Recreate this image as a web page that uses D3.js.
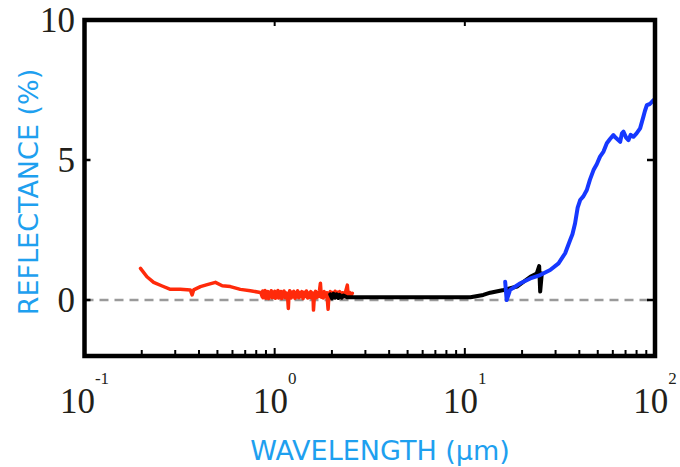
<!DOCTYPE html>
<html><head><meta charset="utf-8">
<script src="https://cdn.jsdelivr.net/npm/d3@7/dist/d3.min.js"></script>
<style>html,body{margin:0;padding:0;background:#fff}svg{display:block}</style>
</head><body>
<script>
// ---- data (wavelength in µm, reflectance in %) ----
const redWavelength = [0.197,0.213,0.231,0.256,0.283,0.319,0.36,0.368,0.375,0.407,0.442,0.488,0.53,0.585,0.66,0.745,0.841,
  0.85,0.86,0.865,0.87,0.88,0.885,0.89,0.90,0.91,0.915,0.92,0.93,0.94,0.95,0.96,0.97,0.98,0.99,1.00,1.01,1.02,1.03,1.04,1.05,
  1.06,1.07,1.08,1.09,1.10,1.11,1.12,1.14,1.15,1.17,1.18,1.19,1.20,1.22,1.23,1.25,1.26,1.28,1.29,1.31,1.32,1.34,1.35,1.37,
  1.39,1.41,1.43,1.45,1.47,1.49,1.51,1.53,1.55,1.57,1.59,1.60,1.62,1.64,1.66,1.68,1.70,1.72,1.74,1.76,1.78,1.80,1.82,1.85,
  1.88,1.91,1.93,1.96,1.99,2.02,2.05,2.08,2.11,2.14,2.17,2.20,2.24,2.28,2.32,2.36,2.41,2.44,2.48,2.52,2.56];
const redReflectance = [1.13,0.83,0.63,0.50,0.38,0.38,0.36,0.18,0.36,0.48,0.55,0.63,0.51,0.48,0.38,0.33,0.27,
  0.22,0.12,0.32,0.08,0.28,0.15,0.34,0.06,0.26,0.12,0.30,0.05,0.27,0.14,0.33,0.08,0.25,0.10,0.31,0.06,0.28,0.12,0.34,0.07,
  0.26,0.13,0.30,0.05,0.27,0.11,0.32,0.08,0.25,0.10,-0.30,0.22,0.33,0.07,0.28,0.12,0.31,0.06,0.26,0.11,0.33,0.08,0.27,0.12,
  0.30,0.05,0.28,0.13,0.32,0.07,0.25,0.10,0.30,0.06,0.24,-0.36,0.22,0.31,0.08,0.27,0.12,0.33,0.60,0.10,0.28,0.07,0.30,0.12,
  0.26,-0.33,0.20,0.30,0.08,0.27,0.12,0.31,0.10,0.28,0.13,0.30,0.09,0.26,0.12,0.30,0.53,0.14,0.27,0.15,0.24];

const blackWavelength = [1.96,2.0,2.04,2.08,2.12,2.16,2.2,2.25,2.3,2.4,2.5,3.0,4.58,6.0,8.38,10.7,12.5,13.6,16.0,18.8,22.1,23.9,24.6,24.9,25.4];
const blackReflectance = [0.20,0.06,0.22,0.08,0.20,0.07,0.18,0.08,0.16,0.10,0.10,0.10,0.10,0.10,0.10,0.10,0.18,0.26,0.36,0.48,0.83,0.95,1.21,0.30,0.95];

const blueWavelength = [16.3,16.6,17.3,19.6,22.1,24.9,28.1,31.1,33.7,35.8,36.8,38.0,39.2,40.4,42.0,43.8,45.5,47.5,49.4,51.4,53.6,55.8,58.0,60.4,62.0,
  65.6,67.0,68.3,70.5,72.5,74.5,77.0,80.0,83.5,86.9,88.5,90.6,94.0,98.2];
const blueReflectance = [0.65,0.0,0.36,0.60,0.77,0.89,1.07,1.31,1.67,2.14,2.35,2.74,3.30,3.57,3.70,3.93,4.30,4.64,4.85,5.12,5.30,5.60,5.75,5.89,5.80,
  5.65,5.95,6.01,5.80,5.71,5.90,5.83,5.95,6.13,6.55,6.75,6.96,7.00,7.14];

const xTickValues = [0.1, 1, 10, 100];
const xTickExponents = ["-1", "0", "1", "2"];
const yTickValues = [0, 5, 10];

// ---- layout ----
const W = 680, H = 467;
const L = 84.5, R = 655, T = 20, B = 356;
const svg = d3.select("body").append("svg").attr("width", W).attr("height", H);

const x = d3.scaleLog().domain([0.1, 100]).range([L, R]);
const y = d3.scaleLinear().domain([-2, 10]).range([B, T]);

// dashed zero line
svg.append("line").attr("x1", L).attr("x2", R).attr("y1", y(0)).attr("y2", y(0))
  .attr("stroke", "#9a9a9a").attr("stroke-width", 2.5).attr("stroke-dasharray", "9,6");

// data lines
const line = d3.line().x(d => x(d[0])).y(d => y(d[1]));
function series(ws, vs, color, sw) {
  svg.append("path").datum(ws.map((w, i) => [w, vs[i]]))
    .attr("d", line).attr("fill", "none").attr("stroke", color)
    .attr("stroke-width", sw).attr("stroke-linejoin", "round").attr("stroke-linecap", "round");
}
series(redWavelength, redReflectance, "#ff2a0a", 3.5);
series(blackWavelength, blackReflectance, "#000", 4);
series(blueWavelength, blueReflectance, "#1638ff", 4);

// frame
svg.append("rect").attr("x", L).attr("y", T).attr("width", R - L).attr("height", B - T)
  .attr("fill", "none").attr("stroke", "#000").attr("stroke-width", 4.5);

// ticks (inward)
const minor = [];
for (let e = -1; e < 2; e++) for (let k = 2; k <= 9; k++) minor.push(k * Math.pow(10, e));
const gAx = svg.append("g").attr("stroke", "#000");
minor.forEach(v => gAx.append("line").attr("x1", x(v)).attr("x2", x(v)).attr("y1", B).attr("y2", B - 6).attr("stroke-width", 2));
[1, 10].forEach(v => {
  gAx.append("line").attr("x1", x(v)).attr("x2", x(v)).attr("y1", B).attr("y2", B - 8).attr("stroke-width", 2);
  gAx.append("line").attr("x1", x(v)).attr("x2", x(v)).attr("y1", T).attr("y2", T + 6).attr("stroke-width", 2);
});
[0, 5].forEach(v => {
  gAx.append("line").attr("x1", L).attr("x2", L + 6).attr("y1", y(v)).attr("y2", y(v)).attr("stroke-width", 2.5);
  gAx.append("line").attr("x1", R).attr("x2", R - 8).attr("y1", y(v)).attr("y2", y(v)).attr("stroke-width", 2.5);
});

// tick labels
const serif = "'Liberation Serif','Times New Roman',serif";
xTickValues.forEach((v, i) => {
  const t = svg.append("text").attr("x", x(v)).attr("y", 413).attr("text-anchor", "middle")
    .attr("font-family", serif).attr("font-size", 35).attr("fill", "#231f1a");
  t.append("tspan").text("10");
  t.append("tspan").attr("dy", -29).attr("font-size", 17).text(xTickExponents[i]);
});
yTickValues.forEach(v => {
  svg.append("text").attr("x", 75).attr("y", y(v)).attr("dy", "0.34em").attr("text-anchor", "end")
    .attr("font-family", serif).attr("font-size", 35).attr("fill", "#231f1a").text(v);
});

// axis titles
const sans = "'DejaVu Sans',Verdana,sans-serif";
svg.append("text").attr("x", 380).attr("y", 460).attr("text-anchor", "middle")
  .attr("font-family", sans).attr("font-size", 27).attr("fill", "#1ea0ef").text("WAVELENGTH (µm)");
svg.append("text").attr("transform", "translate(38,192) rotate(-90)").attr("text-anchor", "middle")
  .attr("font-family", sans).attr("font-size", 27).attr("fill", "#1ea0ef").text("REFLECTANCE (%)");
</script>
</body></html>
